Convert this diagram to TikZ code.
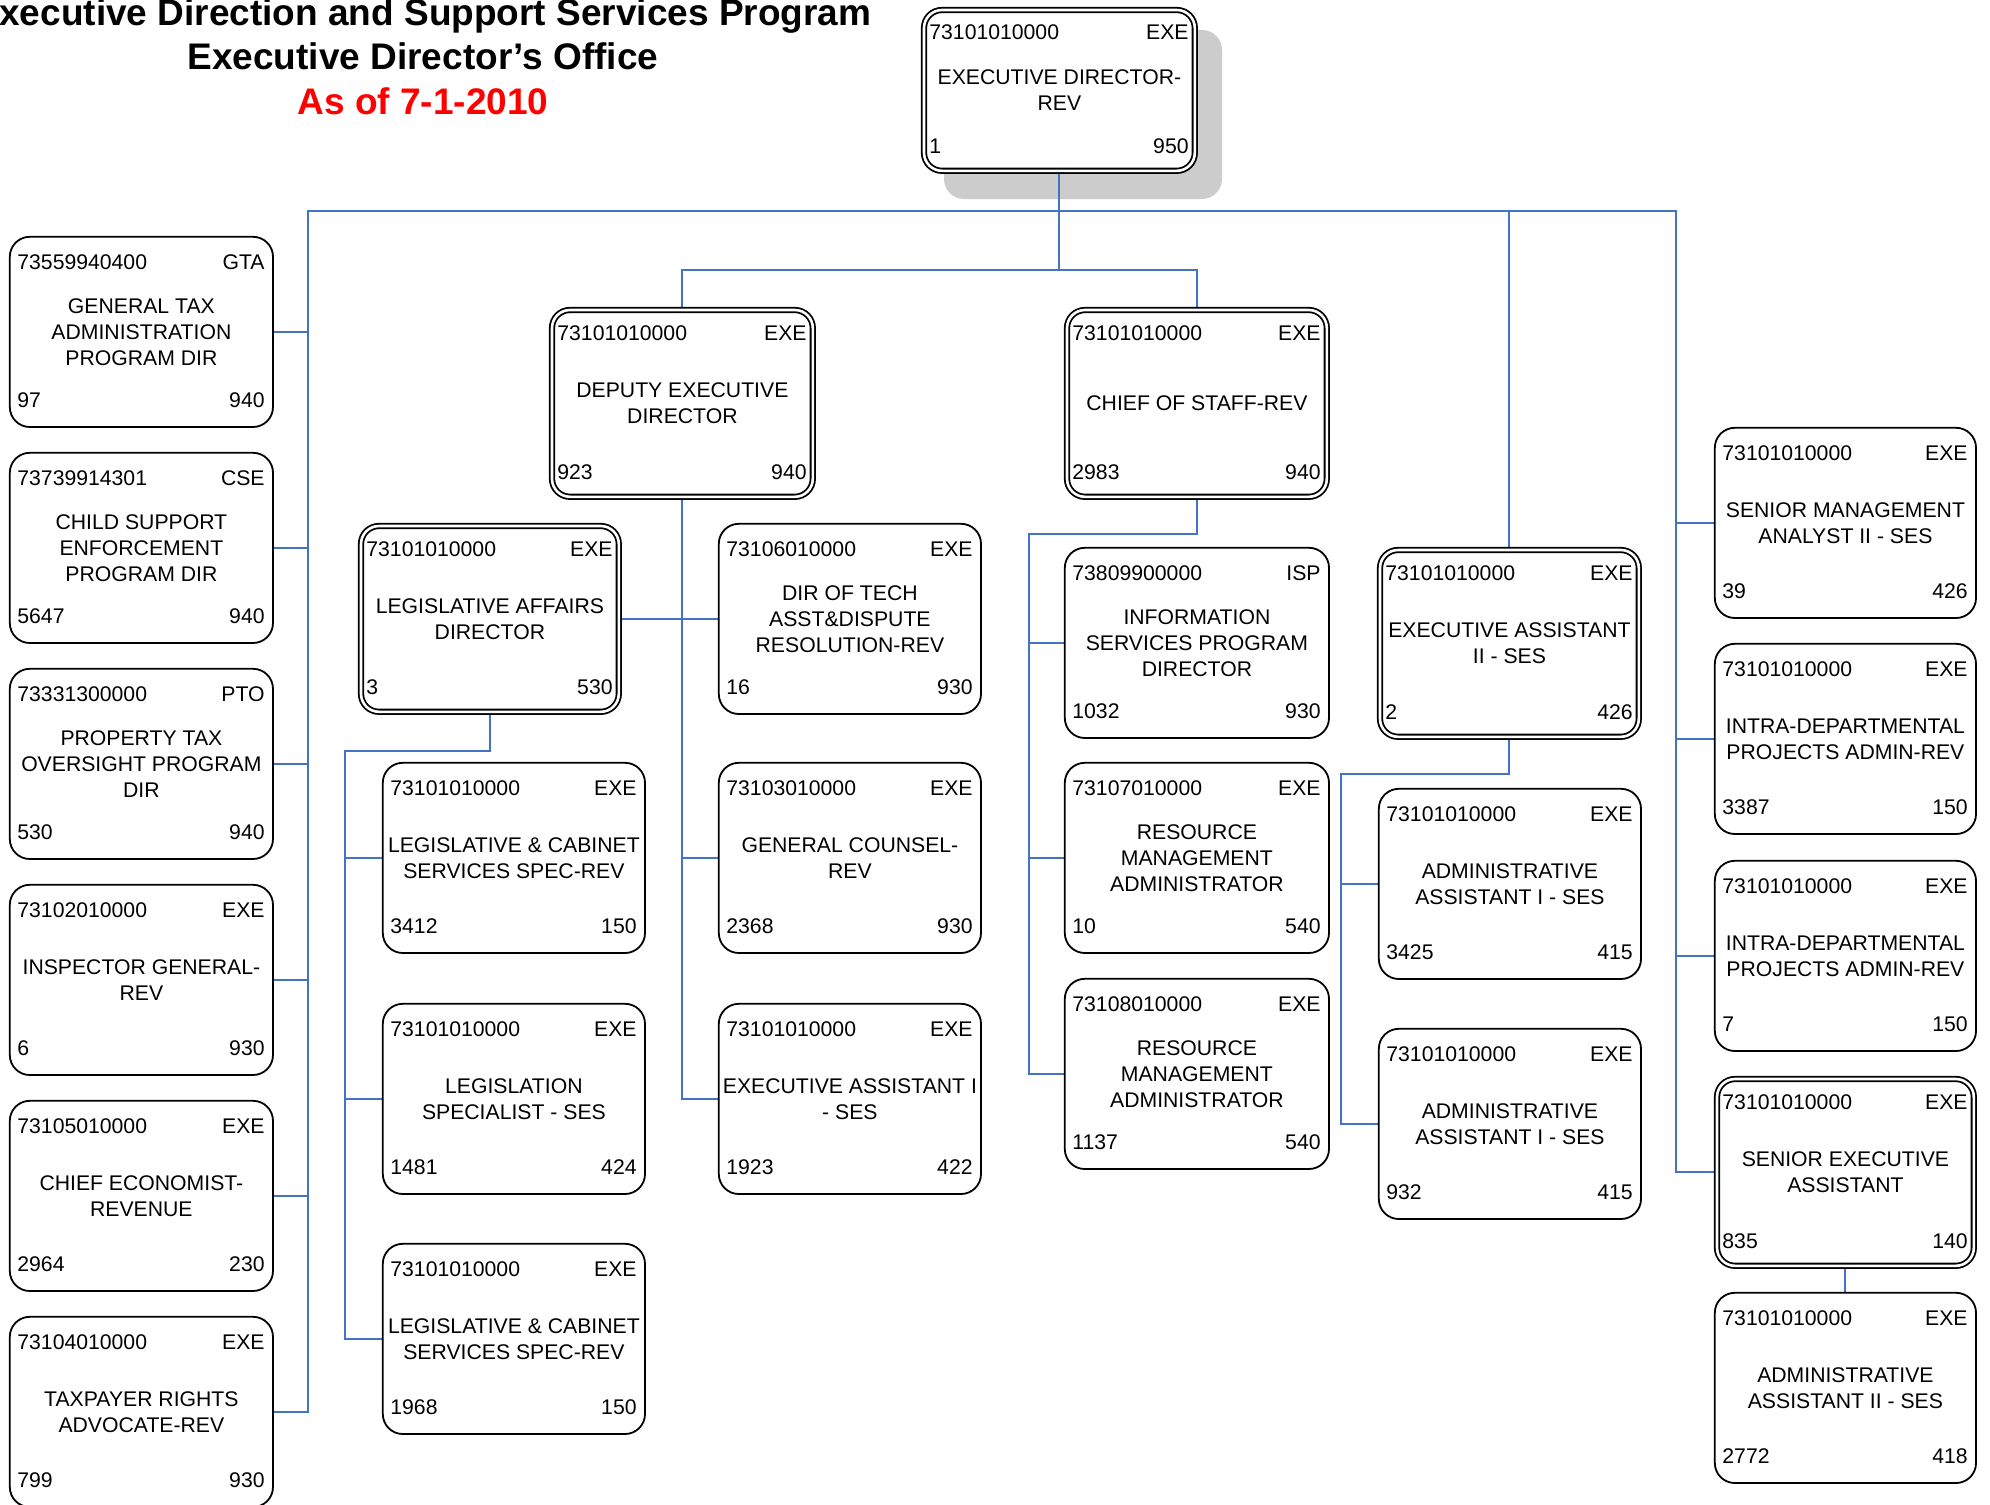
\documentclass[tikz,border=0pt]{standalone}
\usepackage{fontspec}
\newfontfamily\arial{Liberation Sans}
\usetikzlibrary{backgrounds}
\definecolor{connblue}{RGB}{68,114,196}
\definecolor{shadowgray}{RGB}{204,204,204}
\definecolor{titlered}{RGB}{255,0,0}
\def\bw{265}\def\bh{192}
\newcommand\obox[9]{%
  \def\tmpst{#1}\def\tmpdd{dbox}%
  \ifx\tmpst\tmpdd\def\ins{3.1}\else\def\ins{0.9}\fi
  \pgfmathsetmacro\boxW{(\bw-2*\ins)*0.5}%
  \pgfmathsetmacro\boxH{(\bh-2*\ins)*0.5}%
  \node[#1, minimum width=\boxW pt, minimum height=\boxH pt, anchor=north west] (#2) at (#3+\ins,#4+\ins) {};
  \node[txt, anchor=base west] (#2-code) at (#3+9,#4+34) {#5};
  \node[txt, anchor=base east] (#2-type) at (#3+\bw-8,#4+34) {#6};
  \node[txt, align=center] (#2-title) at (#2.center) {#7};
  \node[txt, anchor=base west] (#2-num) at (#3+9,#4+\bh-20) {#8};
  \node[txt, anchor=base east] (#2-grade) at (#3+\bw-8,#4+\bh-20) {#9};
}
\begin{document}
\begin{tikzpicture}[x=0.5pt,y=-0.5pt,
  sbox/.style={draw=black, line width=0.9pt, fill=white, rounded corners=10pt, inner sep=0pt},
  dbox/.style={draw=black, line width=0.9pt, double=white, double distance=1.3pt, fill=white, rounded corners=9pt, inner sep=0pt},
  txt/.style={inner sep=0pt, font=\arial\fontsize{10.6}{13}\selectfont},
  ttl/.style={inner sep=0pt, anchor=base, font=\arial\bfseries\fontsize{18.5}{22}\selectfont},
  conn/.style={draw=connblue, line width=1pt}]
\useasboundingbox (0,0) rectangle (1990,1504);
\clip (0,0) rectangle (1990,1504);
\begin{scope}[on background layer]
\fill[white] (0,0) rectangle (1990,1504);
% shadow of the top box
\fill[shadowgray, rounded corners=10pt] (944,30) rectangle (1222,199);
\end{scope}

% title
\node[ttl] (t1) at (423,26) {Executive Direction and Support Services Program};
\node[ttl] (t2) at (423,70) {Executive Director’s Office};
\node[ttl, text=titlered] (t3) at (423,114) {As of 7-1-2010};

% top box
\def\bw{277}\def\bh{167}
\obox{dbox}{ed}{920}{6}{73101010000}{EXE}{EXECUTIVE DIRECTOR-\\REV}{1}{950}

% left column
\def\bw{265}\def\bh{192}
\obox{sbox}{gta}{8}{235}{73559940400}{GTA}{GENERAL TAX\\ADMINISTRATION\\PROGRAM DIR}{97}{940}
\obox{sbox}{cse}{8}{451}{73739914301}{CSE}{CHILD SUPPORT\\ENFORCEMENT\\PROGRAM DIR}{5647}{940}
\obox{sbox}{pto}{8}{667}{73331300000}{PTO}{PROPERTY TAX\\OVERSIGHT PROGRAM\\DIR}{530}{940}
\obox{sbox}{ig}{8}{883}{73102010000}{EXE}{INSPECTOR GENERAL-\\REV}{6}{930}
\obox{sbox}{ce}{8}{1099}{73105010000}{EXE}{CHIEF ECONOMIST-\\REVENUE}{2964}{230}
\obox{sbox}{tra}{8}{1315}{73104010000}{EXE}{TAXPAYER RIGHTS\\ADVOCATE-REV}{799}{930}

% deputy and chief of staff
\def\bw{267}\def\bh{193}
\obox{dbox}{dep}{548}{306}{73101010000}{EXE}{DEPUTY EXECUTIVE\\DIRECTOR}{923}{940}
\def\bw{266}
\obox{dbox}{cos}{1063}{306}{73101010000}{EXE}{CHIEF OF STAFF-REV}{2983}{940}

% legislative affairs
\def\bw{264}\def\bh{192}
\obox{dbox}{la}{357}{522}{73101010000}{EXE}{LEGISLATIVE AFFAIRS\\DIRECTOR}{3}{530}
\obox{sbox}{lcsa}{381}{761}{73101010000}{EXE}{LEGISLATIVE \& CABINET\\SERVICES SPEC-REV}{3412}{150}
\obox{sbox}{ls}{381}{1002}{73101010000}{EXE}{LEGISLATION\\SPECIALIST - SES}{1481}{424}
\obox{sbox}{lcsb}{381}{1242}{73101010000}{EXE}{LEGISLATIVE \& CABINET\\SERVICES SPEC-REV}{1968}{150}

% deputy's right column
\obox{sbox}{tech}{717}{522}{73106010000}{EXE}{DIR OF TECH\\ASST\&DISPUTE\\RESOLUTION-REV}{16}{930}
\obox{sbox}{gc}{717}{761}{73103010000}{EXE}{GENERAL COUNSEL-\\REV}{2368}{930}
\obox{sbox}{eai}{717}{1002}{73101010000}{EXE}{EXECUTIVE ASSISTANT I\\- SES}{1923}{422}

% chief of staff column
\def\bw{266}
\obox{sbox}{isp}{1063}{546}{73809900000}{ISP}{INFORMATION\\SERVICES PROGRAM\\DIRECTOR}{1032}{930}
\obox{sbox}{rmaa}{1063}{761}{73107010000}{EXE}{RESOURCE\\MANAGEMENT\\ADMINISTRATOR}{10}{540}
\obox{sbox}{rmab}{1063}{977}{73108010000}{EXE}{RESOURCE\\MANAGEMENT\\ADMINISTRATOR}{1137}{540}

% executive assistant II
\def\bw{265}\def\bh{193}
\obox{dbox}{eaii}{1376}{546}{73101010000}{EXE}{EXECUTIVE ASSISTANT\\II - SES}{2}{426}
\def\bw{264}\def\bh{192}
\obox{sbox}{aaa}{1377}{787}{73101010000}{EXE}{ADMINISTRATIVE\\ASSISTANT I - SES}{3425}{415}
\obox{sbox}{aab}{1377}{1027}{73101010000}{EXE}{ADMINISTRATIVE\\ASSISTANT I - SES}{932}{415}

% right column
\def\bw{263}
\obox{sbox}{sma}{1713}{426}{73101010000}{EXE}{SENIOR MANAGEMENT\\ANALYST II - SES}{39}{426}
\obox{sbox}{ipa}{1713}{642}{73101010000}{EXE}{INTRA-DEPARTMENTAL\\PROJECTS ADMIN-REV}{3387}{150}
\obox{sbox}{ipb}{1713}{859}{73101010000}{EXE}{INTRA-DEPARTMENTAL\\PROJECTS ADMIN-REV}{7}{150}
\def\bh{193}
\obox{dbox}{sea}{1713}{1075}{73101010000}{EXE}{SENIOR EXECUTIVE\\ASSISTANT}{835}{140}
\def\bh{192}
\obox{sbox}{aaii}{1713}{1291}{73101010000}{EXE}{ADMINISTRATIVE\\ASSISTANT II - SES}{2772}{418}

% bus coordinates
\coordinate (lbus) at (308,211);
\coordinate (rbus) at (1676,211);
\coordinate (sbus) at (681,270);
\coordinate (labus) at (345,751);
\coordinate (cbus) at (1029,534);
\coordinate (ebus) at (1341,774);

\begin{scope}[on background layer]
% main bus
\foreach \c in {gta,cse,pto,ig,ce,tra}
  \draw[conn] (ed.south) |- (lbus) |- (\c.east);
\foreach \c in {sma,ipa,ipb,sea}
  \draw[conn] (ed.south) |- (rbus) |- (\c.west);
\draw[conn] (ed.south) |- (eaii.north |- lbus) -- (eaii.north);
% deputy / chief
\draw[conn] (ed.south) |- (dep.north |- sbus) -- (dep.north);
\draw[conn] (ed.south) |- (cos.north |- sbus) -- (cos.north);
% deputy children
\draw[conn] (dep.south) |- (la.east);
\foreach \c in {tech,gc,eai}
  \draw[conn] (dep.south) |- (\c.west);
% legislative affairs children
\foreach \c in {lcsa,ls,lcsb}
  \draw[conn] (la.south) |- (labus) |- (\c.west);
% chief children
\foreach \c in {isp,rmaa,rmab}
  \draw[conn] (cos.south) |- (cbus) |- (\c.west);
% exec assistant II children
\foreach \c in {aaa,aab}
  \draw[conn] (eaii.south) |- (ebus) |- (\c.west);
% senior exec assistant
\draw[conn] (sea.south) -- (aaii.north);
\end{scope}
\end{tikzpicture}
\end{document}
